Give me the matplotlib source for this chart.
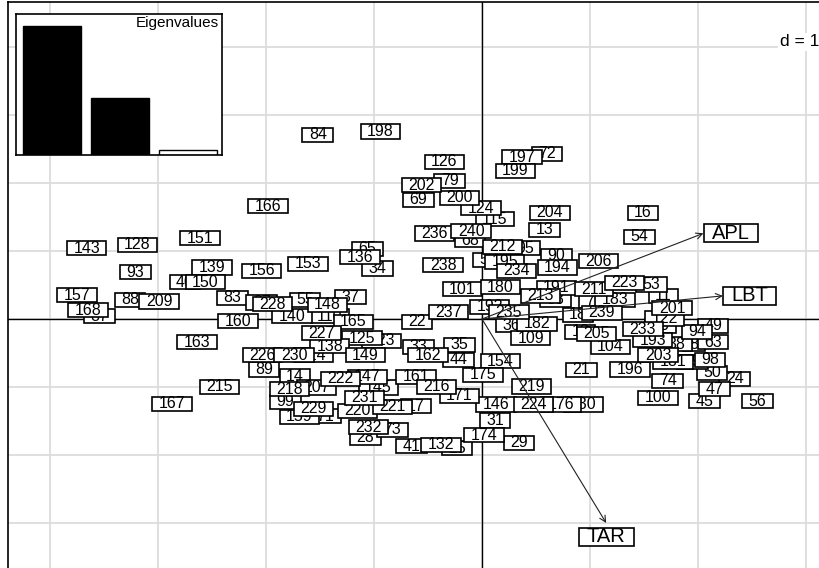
import numpy as np
import matplotlib
matplotlib.use("Agg")
import matplotlib.pyplot as plt
from matplotlib.path import Path

plt.rcParams['font.family'] = ['Liberation Sans', 'DejaVu Sans']

# row labels and their scores on axis 1 / axis 2
labels = [84, 198, 197, 72, 199, 126, 79, 202, 69, 200, 124, 115, 236, 240, 68,
          204, 13, 166, 16, 54, 143, 128, 151, 93, 139, 150, 40, 156, 153, 65,
          136, 34, 238, 157, 168, 87, 88, 209, 83, 97, 228, 55, 148, 37, 140,
          160, 110, 165, 22, 237, 101, 180, 212, 95, 57, 195, 234, 90, 194, 206,
          191, 213, 58, 211, 7, 183, 235, 192, 36, 182, 109, 239, 18, 223, 53,
          11, 201, 233, 205, 104, 12, 193, 122, 86, 94, 49, 8, 63, 38, 203,
          196, 181, 59, 98, 74, 50, 24, 47, 100, 45, 56, 21, 219, 154, 175,
          224, 176, 130, 146, 171, 216, 161, 162, 33, 35, 44, 17, 174, 31, 29,
          132, 25, 41, 163, 215, 167, 227, 125, 123, 149, 138, 226, 230, 114, 89,
          14, 222, 147, 145, 218, 207, 99, 229, 159, 71, 231, 221, 220, 232, 28,
          73]
x = [-1.52, -0.94, 0.37, 0.60, 0.31, -0.35, -0.30, -0.56, -0.59, -0.21, -0.01, 0.12, -0.44, -0.10, -0.11,
     0.63, 0.58, -1.98, 1.49, 1.46, -3.66, -3.19, -2.61, -3.21, -2.50, -2.56, -2.75, -2.04, -1.61, -1.06,
     -1.13, -0.97, -0.36, -3.75, -3.65, -3.54, -3.26, -2.99, -2.31, -2.04, -1.94, -1.64, -1.43, -1.22, -1.76,
     -2.26, -1.41, -1.19, -0.60, -0.31, -0.18, 0.17, 0.19, 0.40, 0.06, 0.21, 0.32, 0.69, 0.70, 1.08,
     0.69, 0.54, 0.68, 1.04, 1.00, 1.23, 0.25, 0.07, 0.27, 0.51, 0.45, 1.11, 0.89, 1.32, 1.57,
     1.68, 1.76, 1.49, 1.06, 1.19, 0.91, 1.58, 1.69, 1.65, 1.99, 2.14, 1.96, 2.14, 1.80, 1.63,
     1.37, 1.77, 1.95, 2.11, 1.72, 2.13, 2.34, 2.15, 1.63, 2.06, 2.55, 0.92, 0.46, 0.17, 0.01,
     0.48, 0.73, 0.94, 0.13, -0.21, -0.42, -0.61, -0.50, -0.59, -0.21, -0.22, -0.61, 0.02, 0.12, 0.34,
     -0.38, -0.23, -0.65, -2.64, -2.43, -2.87, -1.49, -1.11, -0.93, -1.08, -1.41, -2.03, -1.74, -1.56, -2.02,
     -1.73, -1.31, -1.06, -0.96, -1.78, -1.53, -1.82, -1.56, -1.69, -1.45, -1.09, -0.83, -1.15, -1.05, -1.08,
     -0.83]
y = [2.71, 2.76, 2.38, 2.43, 2.18, 2.31, 2.03, 1.97, 1.75, 1.78, 1.63, 1.47, 1.26, 1.29, 1.16,
     1.56, 1.31, 1.66, 1.56, 1.21, 1.04, 1.09, 1.19, 0.69, 0.76, 0.54, 0.54, 0.71, 0.81, 1.03,
     0.91, 0.74, 0.79, 0.35, 0.13, 0.04, 0.28, 0.26, 0.31, 0.24, 0.22, 0.28, 0.21, 0.32, 0.04,
     -0.03, 0.04, -0.04, -0.04, 0.10, 0.44, 0.47, 1.06, 1.04, 0.87, 0.84, 0.71, 0.93, 0.76, 0.85,
     0.46, 0.34, 0.28, 0.44, 0.26, 0.28, 0.10, 0.18, -0.09, -0.07, -0.28, 0.09, 0.06, 0.53, 0.51,
     0.34, 0.16, -0.15, -0.22, -0.41, -0.19, -0.31, 0.01, -0.10, -0.19, -0.10, -0.37, -0.34, -0.37, -0.53,
     -0.74, -0.63, -0.63, -0.60, -0.91, -0.79, -0.88, -1.03, -1.16, -1.21, -1.21, -0.75, -0.99, -0.62, -0.82,
     -1.26, -1.26, -1.26, -1.26, -1.13, -1.00, -0.85, -0.53, -0.41, -0.38, -0.60, -1.28, -1.71, -1.49, -1.82,
     -1.85, -1.90, -1.87, -0.34, -1.00, -1.25, -0.21, -0.28, -0.32, -0.53, -0.40, -0.53, -0.53, -0.53, -0.74,
     -0.84, -0.88, -0.85, -1.01, -1.03, -1.01, -1.22, -1.32, -1.44, -1.43, -1.16, -1.29, -1.35, -1.59, -1.75,
     -1.63]

# variable arrows
var_names = ['APL', 'LBT', 'TAR']
var_x = [2.05, 2.23, 1.15]
var_y = [1.26, 0.34, -3.00]

eig = [2.07, 0.91, 0.08]


def label_box(x0, y0, width, height, mutation_size):
    # wide, flat box like ade4's s.label
    padx = 0.40 * mutation_size
    pady = -0.02 * mutation_size
    xa, xb = x0 - padx, x0 + width + padx
    ya, yb = y0 - pady, y0 + height + pady
    return Path([(xa, ya), (xb, ya), (xb, yb), (xa, yb), (xa, ya)], closed=True)


fig = plt.figure(figsize=(8.19, 5.68), dpi=100)
W, H = 819., 568.
# main panel: origin at px (482, 319), 1 unit = 108 px across, 68 px down
ax = fig.add_axes([8/W, (H-580)/H, 822/W, 578/H])
ax.set_xlim((8-482)/108., (830-482)/108.)
ax.set_ylim((319-580)/68., (319-2)/68.)
ax.set_xticks([])
ax.set_yticks([])
for sp in ax.spines.values():
    sp.set_linewidth(1.2)

for g in range(-4, 4):
    ax.axvline(g, color='#dcdcdc', lw=1.3, zorder=0)
for g in range(-3, 5):
    ax.axhline(g, color='#dcdcdc', lw=1.3, zorder=0)
ax.axvline(0, color='black', lw=1.0, zorder=1)
ax.axhline(0, color='black', lw=1.0, zorder=1)

order = np.argsort(labels)
for k, i in enumerate(order):
    ax.text(x[i], y[i], str(labels[i]), ha='center', va='center', fontsize=11.5,
            zorder=2 + k * 0.001,
            bbox=dict(boxstyle=label_box, facecolor='white', edgecolor='black', linewidth=1.2))

for nm, vx, vy in zip(var_names, var_x, var_y):
    ax.annotate('', xy=(vx, vy), xytext=(0, 0),
                arrowprops=dict(arrowstyle='->', lw=0.8, color='#222222', mutation_scale=11,
                                shrinkA=0, shrinkB=0), zorder=5)
    if abs(vx * 108) > abs(vy * 68):
        ax.annotate(nm, xy=(vx, vy), xytext=(6, 0), textcoords='offset points',
                    ha='left', va='center', fontsize=14.5, zorder=6,
                    bbox=dict(boxstyle=label_box, facecolor='white', edgecolor='black', linewidth=1.2))
    else:
        ax.annotate(nm, xy=(vx, vy), xytext=(0, -3), textcoords='offset points',
                    ha='center', va='top', fontsize=14.5, zorder=6,
                    bbox=dict(boxstyle=label_box, facecolor='white', edgecolor='black', linewidth=1.2))

fig.text(1.0, 1 - 42/H, 'd = 1', ha='right', va='center', fontsize=12.5,
         bbox=dict(boxstyle='square,pad=0.1', facecolor='white', edgecolor='none'))

# eigenvalue inset
axe = fig.add_axes([16/W, (H-155)/H, 206/W, 141/H])
axe.set_facecolor('white')
axe.bar(range(3), eig, width=0.85, color=['black', 'black', 'white'],
        edgecolor='black', linewidth=1.0)
axe.set_xlim(-36/68., 170/68.)
axe.set_ylim(0, eig[0] * 141/129.)
axe.set_xticks([])
axe.set_yticks([])
for sp in axe.spines.values():
    sp.set_linewidth(1.2)
axe.text(0.985, 0.985, 'Eigenvalues', transform=axe.transAxes, ha='right', va='top', fontsize=11)

fig.savefig('out.png', dpi=100)
